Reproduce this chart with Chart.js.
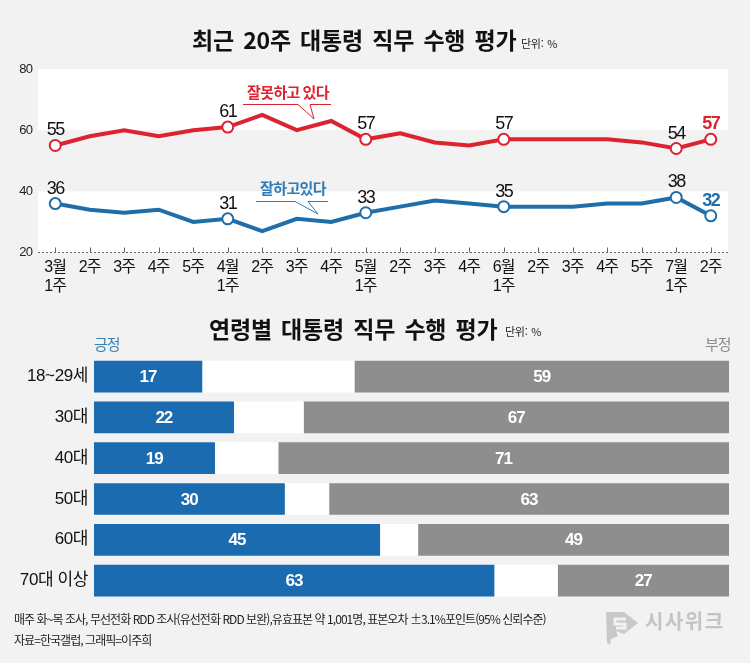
<!DOCTYPE html>
<html lang="ko">
<head>
<meta charset="utf-8">
<title>최근 20주 대통령 직무 수행 평가</title>
<script src="https://cdn.jsdelivr.net/npm/chart.js@4"></script>
<style>
html, body { margin: 0; padding: 0; background: #f2f2f2; }
#pagina { position: relative; width: 750px; height: 663px; overflow: hidden; background: #f2f2f2; font-family: "Noto Sans CJK KR", sans-serif; color: #111; }
#pagina canvas { position: absolute; left: 0; }
.texto { position: absolute; white-space: nowrap; line-height: 1; }
.titulo { font-size: 23px; font-weight: 700; letter-spacing: -0.2px; word-spacing: 3px; }
.unidade { font-size: 11px; letter-spacing: -0.3px; word-spacing: 1px; color: #222; }
.rodape { font-size: 12px; letter-spacing: -0.95px; color: #222; left: 14px; }
</style>
</head>
<body>
<div id="pagina">
    <canvas id="graficoSemanas" width="750" height="300" style="top:0"></canvas>
    <canvas id="graficoIdade" width="750" height="280" style="top:340px"></canvas>

    <div class="texto titulo" style="left:192px;top:28px">최근 20주 대통령 직무 수행 평가</div>
    <div class="texto unidade" style="left:521px;top:38px">단위: %</div>
    <div class="texto titulo" style="left:209px;top:317px">연령별 대통령 직무 수행 평가</div>
    <div class="texto unidade" style="left:505px;top:326px">단위: %</div>
    <div class="texto" style="left:94px;top:336px;font-size:15px;letter-spacing:-1px;color:#3a7fb5">긍정</div>
    <div class="texto" style="left:705px;top:336px;font-size:15px;letter-spacing:-1px;color:#8c8c8c">부정</div>
    <div class="texto rodape" style="top:613px">매주 화~목 조사, 무선전화 RDD 조사(유선전화 RDD 보완),유효표본 약 1,001명, 표본오차 ±3.1%포인트(95% 신뢰수준)</div>
    <div class="texto rodape" style="top:634px">자료=한국갤럽, 그래픽=이주희</div>
    <div class="texto" style="left:645px;top:611px;font-size:20px;font-weight:700;letter-spacing:1.5px;color:#c4c4c4">시사위크</div>
    <svg style="position:absolute;left:604px;top:610px" width="36" height="36" viewBox="0 0 36 36">
        <path d="M2 2 H20 L34 13 L20 24 L12 21 L14 26 L7 29 L6 35 L3 33 Z" fill="#c9c9c9"/>
        <path d="M22 9 H11 V14 H21 V18 H12" stroke="#f2f2f2" stroke-width="3" fill="none"/>
    </svg>
</div>

<script>
// Dados do grafico de linhas
const semanas = [["3월","1주"],"2주","3주","4주","5주",["4월","1주"],"2주","3주","4주",["5월","1주"],"2주","3주","4주",["6월","1주"],"2주","3주","4주","5주",["7월","1주"],"2주"];
const errado = [55,58,60,58,60,61,65,60,63,57,59,56,55,57,57,57,57,56,54,57];
const certo = [36,34,33,34,30,31,27,31,30,33,35,37,36,35,35,35,36,36,38,32];
const marcados = [0,5,9,13,18,19];
const ticksValor = [20,40,60,80];

// Dados do grafico de barras
const idades = ["18~29세","30대","40대","50대","60대","70대 이상"];
const positivo = [17,22,19,30,45,63];
const neutro = [24,11,10,7,6,10];
const negativo = [59,67,71,63,49,27];

const corVermelha = '#dc2430';
const corAzul = '#1f6eaa';
const corCinza = '#8e8e8e';
const fonteNum = '"Liberation Sans", "Noto Sans CJK KR", sans-serif';
const fonteKr = '"Noto Sans CJK KR", sans-serif';

// Aperta as letras dos eixos, como no original
const apertaTexto = {
    id: 'apertaTexto',
    beforeDraw(chart, args, opcoes) {
        chart.ctx.letterSpacing = opcoes.espaco;
    }
};

// Faixas brancas, linha tracejada e marcas do eixo
const fundoLinhas = {
    id: 'fundoLinhas',
    beforeDatasetsDraw(chart) {
        const { ctx, chartArea, scales } = chart;
        ctx.save();
        ctx.fillStyle = '#ffffff';
        [[80, 60], [40, 20]].forEach(f => {
            let y1 = scales.y.getPixelForValue(f[0]);
            let y2 = scales.y.getPixelForValue(f[1]);
            ctx.fillRect(chartArea.left, y1, chartArea.width, y2 - y1);
        });
        let y0 = scales.y.getPixelForValue(20);
        ctx.strokeStyle = '#666';
        ctx.lineWidth = 1;
        ctx.setLineDash([2, 2]);
        ctx.beginPath();
        ctx.moveTo(chartArea.left, y0);
        ctx.lineTo(chartArea.right + 2, y0);
        ctx.stroke();
        ctx.setLineDash([]);
        semanas.forEach((s, i) => {
            let x = Math.round(scales.x.getPixelForValue(i)) + 0.5;
            ctx.beginPath();
            ctx.moveTo(x, y0);
            ctx.lineTo(x, y0 - 5);
            ctx.stroke();
        });
        ctx.restore();
    }
};

// Rotulos dos pontos e as chamadas das series
const rotulosLinhas = {
    id: 'rotulosLinhas',
    afterDatasetsDraw(chart) {
        const { ctx, scales } = chart;
        ctx.save();
        ctx.textAlign = 'center';
        ctx.textBaseline = 'alphabetic';
        ctx.letterSpacing = '-1.4px';
        chart.data.datasets.forEach(ds => {
            marcados.forEach(i => {
                let ultimo = i === semanas.length - 1;
                ctx.font = (ultimo ? 'bold ' : '') + '18px ' + fonteNum;
                ctx.fillStyle = ultimo ? ds.borderColor : '#111';
                ctx.fillText(ds.data[i], scales.x.getPixelForValue(i), scales.y.getPixelForValue(ds.data[i]) - 10);
            });
        });

        ctx.font = 'bold 15px ' + fonteKr;
        ctx.letterSpacing = '-0.6px';
        ctx.fillStyle = corVermelha;
        ctx.fillText('잘못하고 있다', 288, 98);
        ctx.fillStyle = '#2f7db8';
        ctx.fillText('잘하고있다', 293, 194);
        ctx.letterSpacing = '0px';

        ctx.lineWidth = 1;
        ctx.strokeStyle = corVermelha;
        ctx.beginPath();
        ctx.moveTo(243, 104.5);
        ctx.lineTo(298, 104.5);
        ctx.lineTo(314, 119);
        ctx.lineTo(310, 104.5);
        ctx.lineTo(331, 104.5);
        ctx.stroke();
        ctx.strokeStyle = '#2f7db8';
        ctx.beginPath();
        ctx.moveTo(256, 201.5);
        ctx.lineTo(295, 201.5);
        ctx.lineTo(318, 214);
        ctx.lineTo(308, 201.5);
        ctx.lineTo(328, 201.5);
        ctx.stroke();
        ctx.restore();
    }
};

// Numeros dentro das barras
const rotulosBarras = {
    id: 'rotulosBarras',
    afterDatasetsDraw(chart) {
        const { ctx } = chart;
        ctx.save();
        ctx.fillStyle = '#ffffff';
        ctx.font = 'bold 17px ' + fonteNum;
        ctx.letterSpacing = '-1px';
        ctx.textAlign = 'center';
        ctx.textBaseline = 'middle';
        [0, 2].forEach(d => {
            chart.getDatasetMeta(d).data.forEach((barra, i) => {
                ctx.fillText(chart.data.datasets[d].data[i], (barra.x + barra.base) / 2, barra.y + 1);
            });
        });
        ctx.restore();
    }
};

function serieLinha(rotulo, dados, cor) {
    return {
        label: rotulo,
        data: dados,
        borderColor: cor,
        backgroundColor: cor,
        borderWidth: 4,
        tension: 0,
        pointRadius: dados.map((v, i) => marcados.includes(i) ? 5.5 : 0),
        pointBackgroundColor: '#ffffff',
        pointBorderColor: cor,
        pointBorderWidth: 2
    };
}

document.addEventListener('DOMContentLoaded', function () {
    new Chart(document.getElementById('graficoSemanas').getContext('2d'), {
        type: 'line',
        data: {
            labels: semanas,
            datasets: [serieLinha('잘못하고 있다', errado, corVermelha), serieLinha('잘하고있다', certo, corAzul)]
        },
        plugins: [apertaTexto, fundoLinhas, rotulosLinhas],
        options: {
            responsive: false,
            animation: false,
            layout: { padding: { top: 69, right: 22, left: 0, bottom: 0 } },
            plugins: { legend: { display: false }, tooltip: { enabled: false }, apertaTexto: { espaco: '-0.9px' } },
            scales: {
                x: {
                    offset: true,
                    grid: { display: false, tickLength: 5 },
                    border: { display: false },
                    ticks: { autoSkip: false, maxRotation: 0, color: '#111', padding: 0, font: { family: fonteNum, size: 16, lineHeight: 1.2 } },
                    afterFit(escala) { escala.height = 47.5; }
                },
                y: {
                    min: 20,
                    max: 80,
                    afterBuildTicks(escala) { escala.ticks = ticksValor.map(v => ({ value: v })); },
                    grid: { display: false, tickLength: 0 },
                    border: { display: false },
                    ticks: { color: '#222', padding: 6, font: { family: fonteNum, size: 13 } },
                    afterFit(escala) { escala.width = 38; }
                }
            }
        }
    });

    new Chart(document.getElementById('graficoIdade').getContext('2d'), {
        type: 'bar',
        data: {
            labels: idades,
            datasets: [
                { label: '긍정', data: positivo, backgroundColor: '#1a6bb0' },
                { label: '모름', data: neutro, backgroundColor: '#ffffff' },
                { label: '부정', data: negativo, backgroundColor: corCinza }
            ]
        },
        plugins: [apertaTexto, rotulosBarras],
        options: {
            indexAxis: 'y',
            responsive: false,
            animation: false,
            datasets: { bar: { barThickness: 31 } },
            layout: { padding: { top: 15, right: 21, left: 0, bottom: 19 } },
            plugins: { legend: { display: false }, tooltip: { enabled: false }, apertaTexto: { espaco: '-0.4px' } },
            scales: {
                x: { stacked: true, min: 0, max: 100, display: false },
                y: {
                    stacked: true,
                    grid: { display: false, tickLength: 0 },
                    border: { display: false },
                    ticks: { color: '#111', padding: 6, font: { family: fonteNum, size: 17 } },
                    afterFit(escala) { escala.width = 94; }
                }
            }
        }
    });
});
</script>
</body>
</html>
